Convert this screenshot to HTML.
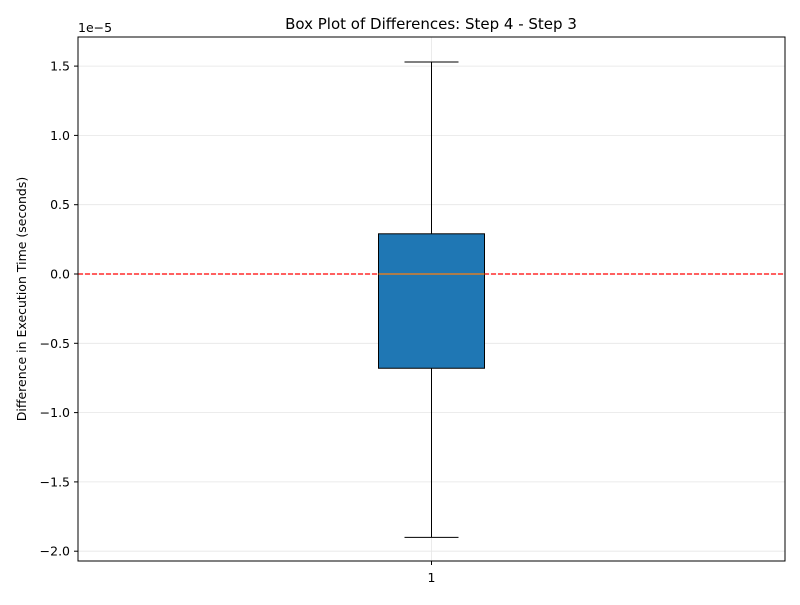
<!DOCTYPE html>
<html><head><meta charset="utf-8"><style>
body{margin:0;background:#fff;font-family:"Liberation Sans","DejaVu Sans",sans-serif}
svg text{font-family:"DejaVu Sans","Liberation Sans",sans-serif}
</style></head><body>
<svg id="c" width="800" height="600" xmlns="http://www.w3.org/2000/svg">
<rect width="800" height="600" fill="#fff"/>
<text x="431" y="29" font-size="15" text-anchor="middle">Box Plot of Differences: Step 4 - Step 3</text>
<text transform="translate(26,299) rotate(-90)" font-size="12.5" text-anchor="middle">Difference in Execution Time (seconds)</text>
<text x="78" y="32" font-size="12.5">1e−5</text>
<g id="grid"></g><g id="marks"></g>
<rect x="78" y="37" width="707" height="524" fill="none" stroke="#000" stroke-width="1"/>
</svg>
<script>
const yTicks=[1.5,1.0,0.5,0.0,-0.5,-1.0,-1.5,-2.0];
const yTickLabels=["1.5","1.0","0.5","0.0","−0.5","−1.0","−1.5","−2.0"];
const categories=["1"];
const whiskerHigh=[1.53];
const q3=[0.29];
const median=[0.0];
const q1=[-0.68];
const whiskerLow=[-1.90];
const NS="http://www.w3.org/2000/svg";
function y(v){return 274-v*138.6;}
function x(i){return 78+707*(i+0.5)/categories.length;}
function mk(t,a,p){const e=document.createElementNS(NS,t);for(const k in a)e.setAttribute(k,a[k]);(p||document.getElementById('marks')).appendChild(e);return e;}
const g=document.getElementById('grid');
yTicks.forEach((v,i)=>{
 const l=mk('line',{x1:78,x2:785,y1:y(v),y2:y(v),stroke:'#e6e6e6','stroke-width':0.8},g);
 
 
 mk('line',{x1:74,x2:78,y1:y(v),y2:y(v),stroke:'#000'},g);
 const t=mk('text',{x:70,y:y(v)+4.5,'font-size':12.5,'text-anchor':'end'},g);
 t.textContent=yTickLabels[i];
 
 
});
const z=mk('line',{x1:78,x2:785,y1:y(0),y2:y(0),stroke:'#ff0000','stroke-dasharray':'5,2','stroke-width':1.3});


categories.forEach((c,i)=>{
 const gl=mk('line',{x1:x(i),x2:x(i),y1:37,y2:561,stroke:'#e6e6e6','stroke-width':0.8},g);
 
 
 mk('line',{x1:x(i),x2:x(i),y1:561,y2:565,stroke:'#000'},g);
 const t=mk('text',{x:x(i),y:582,'font-size':12.5,'text-anchor':'middle'},g);
 t.textContent=c;
 
 
 const cx=x(i),hw=53,cw=27;
 const w1=mk('line',{x1:cx,x2:cx,y1:y(whiskerHigh[i]),y2:y(q3[i]),stroke:'#000'});
 
 
 const w2=mk('line',{x1:cx,x2:cx,y1:y(q1[i]),y2:y(whiskerLow[i]),stroke:'#000'});
 
 
 const c1=mk('line',{x1:cx-cw,x2:cx+cw,y1:y(whiskerHigh[i]),y2:y(whiskerHigh[i]),stroke:'#000'});
 
 
 const c2=mk('line',{x1:cx-cw,x2:cx+cw,y1:y(whiskerLow[i]),y2:y(whiskerLow[i]),stroke:'#000'});
 
 
 const b=mk('rect',{x:cx-hw,y:y(q3[i]),width:2*hw,height:y(q1[i])-y(q3[i]),fill:'#1f77b4',stroke:'#000'});
 
 
 const m=mk('line',{x1:cx-hw,x2:cx+hw,y1:y(median[i]),y2:y(median[i]),stroke:'#ff7f0e','stroke-width':1.3});
 
 
});
</script>
</body></html>
